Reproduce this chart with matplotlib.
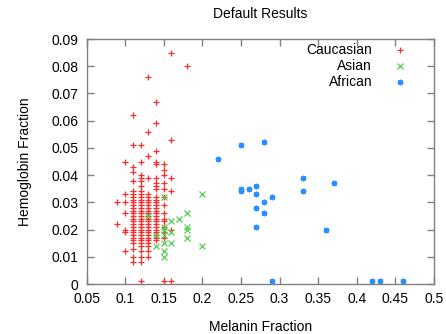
import matplotlib
matplotlib.use("Agg")
import matplotlib.pyplot as plt
from matplotlib.ticker import FuncFormatter

plt.rcParams['font.family'] = ['Liberation Sans', 'DejaVu Sans']

# ---- data ----
cauc_cols = [0.09, 0.10, 0.11, 0.12, 0.13, 0.14, 0.15, 0.16, 0.18]
cauc_vals = [
    [0.030, 0.022],
    [0.045, 0.033, 0.030, 0.026, 0.020, 0.019, 0.012],
    [0.062, 0.051, 0.043, 0.041, 0.038, 0.034, 0.033, 0.032, 0.031, 0.030,
     0.029, 0.028, 0.027, 0.026, 0.025, 0.024, 0.023, 0.022, 0.021, 0.020,
     0.019, 0.018, 0.017, 0.016, 0.015, 0.013, 0.010, 0.008],
    [0.051, 0.045, 0.040, 0.039, 0.038, 0.036, 0.034, 0.033, 0.032, 0.031,
     0.030, 0.029, 0.028, 0.027, 0.026, 0.025, 0.024, 0.023, 0.022, 0.021,
     0.020, 0.019, 0.018, 0.017, 0.016, 0.015, 0.014, 0.012, 0.010, 0.008, 0.001],
    [0.076, 0.056, 0.047, 0.039, 0.033, 0.032, 0.031, 0.030, 0.029, 0.028,
     0.027, 0.026, 0.025, 0.024, 0.023, 0.022, 0.021, 0.020, 0.019, 0.018,
     0.017, 0.016, 0.015, 0.014, 0.012, 0.010],
    [0.067, 0.059, 0.049, 0.045, 0.044, 0.039, 0.037, 0.036, 0.035, 0.032,
     0.031, 0.030, 0.029, 0.028, 0.027, 0.026, 0.025, 0.024, 0.023, 0.022,
     0.021, 0.020, 0.019, 0.018, 0.017, 0.016],
    [0.044, 0.042, 0.040, 0.037, 0.035, 0.032, 0.029, 0.026, 0.024, 0.023,
     0.021, 0.019, 0.017, 0.001],
    [0.085, 0.053, 0.039, 0.034, 0.020, 0.001],
    [0.080],
]

asian_x = [0.13, 0.14, 0.14, 0.15, 0.15, 0.15, 0.15, 0.15, 0.15, 0.15,
           0.16, 0.16, 0.16, 0.17, 0.18, 0.18, 0.18, 0.18, 0.20, 0.20]
asian_y = [0.025, 0.018, 0.014, 0.032, 0.021, 0.020, 0.018, 0.015, 0.012, 0.010,
           0.023, 0.019, 0.015, 0.024, 0.026, 0.021, 0.020, 0.017, 0.033, 0.014]

african_x = [0.22, 0.25, 0.28, 0.25, 0.25, 0.26, 0.27, 0.27, 0.29, 0.28,
             0.27, 0.28, 0.27, 0.33, 0.33, 0.37, 0.36, 0.29, 0.42, 0.43, 0.46]
african_y = [0.046, 0.051, 0.052, 0.035, 0.034, 0.035, 0.036, 0.033, 0.032, 0.030,
             0.028, 0.026, 0.021, 0.039, 0.034, 0.037, 0.020, 0.001, 0.001, 0.001, 0.001]

series_names = ["Caucasian", "Asian", "African"]
x_ticks = [0.05, 0.1, 0.15, 0.2, 0.25, 0.3, 0.35, 0.4, 0.45, 0.5]
y_ticks = [0, 0.01, 0.02, 0.03, 0.04, 0.05, 0.06, 0.07, 0.08, 0.09]

cauc_x = [c for c, vals in zip(cauc_cols, cauc_vals) for _ in vals]
cauc_y = [v for vals in cauc_vals for v in vals]

# ---- styles ----
c_red = '#ff2a2a'
c_green = '#55cc55'
c_blue = '#2a90ff'
styles = [
    dict(color=c_red, marker='+', ms=5, mew=0.9, ls='none'),
    dict(color=c_green, marker='x', ms=4, mew=0.9, ls='none'),
    dict(color=c_blue, marker=(8, 2, 0), ms=4, mew=0.9, ls='none'),
]

fig = plt.figure(figsize=(4.46, 3.34), dpi=100)
ax = fig.add_axes([86.5 / 446, 50 / 334, 347.5 / 446, 245 / 334])

ax.plot(cauc_x, cauc_y, **styles[0])
ax.plot(asian_x, asian_y, **styles[1])
ax.plot(african_x, african_y, **styles[2])

ax.set_xlim(0.05, 0.5)
ax.set_ylim(0, 0.09)
ax.set_xticks(x_ticks)
ax.set_yticks(y_ticks)
fmt = FuncFormatter(lambda v, p: ('%g' % round(v, 4)))
ax.xaxis.set_major_formatter(fmt)
ax.yaxis.set_major_formatter(fmt)

for s in ax.spines.values():
    s.set_color('#808080')
    s.set_linewidth(1.0)
ax.tick_params(direction='in', length=5, width=1, color='#808080',
               top=True, right=True, labelsize=10, labelcolor='black', pad=6)

ax.set_xlabel('Melanin Fraction', fontsize=10, labelpad=10)
ax.set_ylabel('Hemoglobin Fraction', fontsize=10, labelpad=14)
fig.text(0.5 * (86.5 + 434) / 446, 1 - 14 / 334, 'Default Results',
         ha='center', va='center', fontsize=10)

# legend (gnuplot style: right-aligned text, sample to the right)
leg_y = [0.955, 0.890, 0.824]
for name, st, yy in zip(series_names, styles, leg_y):
    ax.text(0.822, yy, name, transform=ax.transAxes, ha='right', va='center', fontsize=10)
    ax.plot([0.902], [yy], transform=ax.transAxes, clip_on=False, **st)

fig.savefig('out.png', dpi=100)
